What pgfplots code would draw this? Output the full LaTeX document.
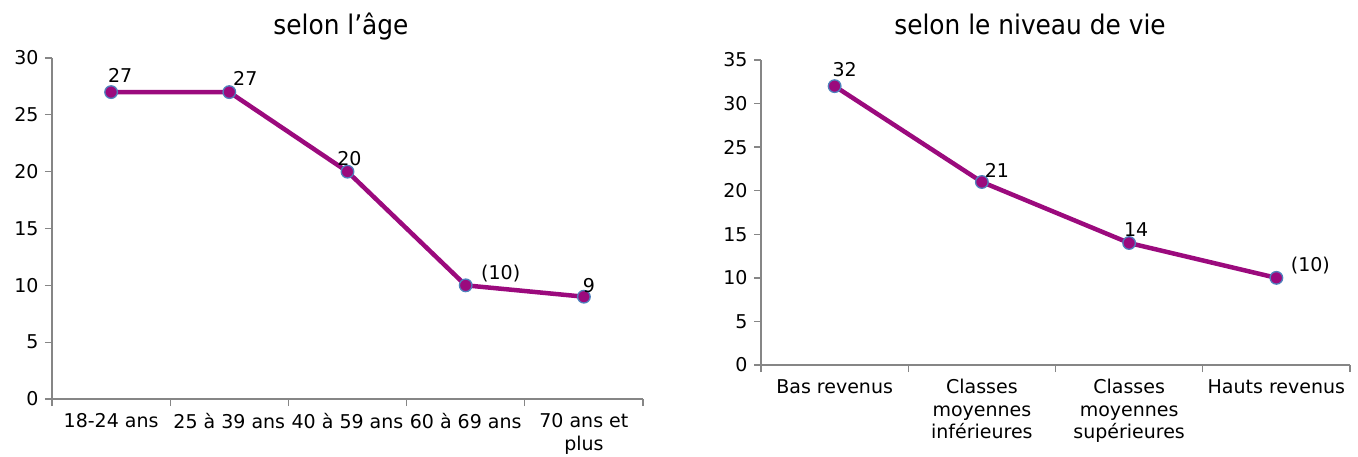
\documentclass[border=0pt]{standalone}
\usepackage{fontspec}
\setmainfont{DejaVu Sans}
\newfontfamily\titlefont[FakeStretch=0.92]{DejaVu Sans}
\usepackage{pgfplots}
\pgfplotsset{compat=1.18}
\usepackage{pgfplotstable}
\definecolor{linec}{RGB}{155,10,125}
\definecolor{markc}{RGB}{79,129,189}
\definecolor{axc}{RGB}{134,134,134}

\pgfplotstableread{
x y lab dx dy
0 27 27 9 17
1 27 27 16 13.5
2 20 20 2 13
3 10 (10) 35 11.5
4 9 9 5 11.5
}\agedata

\pgfplotstableread{
x y lab dx dy
0 32 32 10 17
1 21 21 15 12
2 14 14 7 13
3 10 (10) 34 12.5
}\revdata

\pgfplotsset{
  common/.style={
    scale only axis,
    axis x line*=bottom, axis y line*=left,
    axis line style={axc, line width=1.3pt},
    every tick/.style={axc, line width=1.3pt},
    tick align=outside,
    major tick length=7pt, minor tick length=7pt,
    /pgf/number format/assume math mode=true,
    ticklabel style={font=\fontsize{19}{22.5}\selectfont, black},
    xticklabel style={align=center, yshift=-4pt},
    major x tick style={draw=none},
    xtick={0,1,2,3,4},
    yticklabel style={xshift=-3pt},
    clip=false,
  },
  serie/.style={
    linec, line width=4.5pt, mark=*, mark size=6.3pt,
    mark options={fill=linec, draw=markc, line width=1.3pt},
    nodes near coords, point meta=explicit symbolic,
    visualization depends on={\thisrow{dx}\as\dx},
    visualization depends on={\thisrow{dy}\as\dy},
    every node near coord/.append style={anchor=center, xshift=\dx pt, yshift=\dy pt,
      font=\fontsize{19}{22}\selectfont, text=black, inner sep=0pt},
  },
}

\begin{document}
\begin{tikzpicture}
\useasboundingbox (0,0) rectangle (1358pt,456pt);
\node[anchor=base] at (341pt,421pt) {\titlefont\fontsize{27}{32}\selectfont selon l’âge};
\node[anchor=base] at (1030pt,421pt) {\titlefont\fontsize{27}{32}\selectfont selon le niveau de vie};

\begin{axis}[common,
  at={(52pt,57pt)}, anchor=south west,
  width=591pt, height=341pt,
  xmin=-0.5, xmax=4.5, ymin=0, ymax=30,
  ytick={0,5,...,30},
  minor xtick={-0.5,0.5,...,4.5},
  xticklabels={18-24 ans, 25 à 39 ans, 40 à 59 ans, 60 à 69 ans, {70 ans et\\plus}},
]
\addplot[serie] table[x=x, y=y, meta=lab] {\agedata};
\end{axis}

\begin{axis}[common,
  at={(761pt,91pt)}, anchor=south west,
  width=589pt, height=305pt,
  xmin=-0.5, xmax=3.5, ymin=0, ymax=35,
  ytick={0,5,...,35},
  minor xtick={-0.5,0.5,...,3.5},
  xticklabels={Bas revenus, {Classes\\moyennes\\inférieures}, {Classes\\moyennes\\supérieures}, Hauts revenus},
]
\addplot[serie] table[x=x, y=y, meta=lab] {\revdata};
\end{axis}
\end{tikzpicture}
\end{document}
